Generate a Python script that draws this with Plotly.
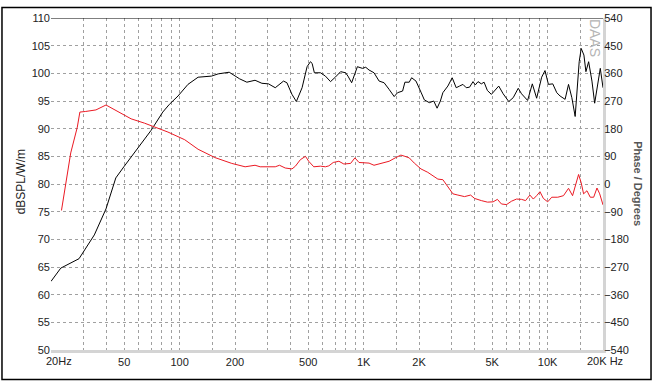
import plotly.graph_objects as go

# ---- data ----
spl_freq = [20, 22.6, 28.4, 34.4, 39.8, 45, 50, 59, 70, 81, 88, 98, 111, 126, 149, 162, 186,
            212, 232, 257, 280, 304, 331, 367, 383, 408, 431, 463, 493, 514, 525, 540, 583, 620,
            661, 704, 750, 798, 822, 861, 886, 925, 985, 1027, 1070, 1139, 1214, 1292, 1376,
            1466, 1529, 1629, 1677, 1770, 1824, 1926, 2050, 2138, 2276, 2406, 2508, 2614, 2696,
            2870, 3030, 3186, 3322, 3466, 3612, 3766, 3932, 4046, 4186, 4364, 4516, 4706, 4948,
            5158, 5424, 5734, 6152, 6502, 6924, 7218, 7786, 8258, 8718, 9284, 9678, 10102,
            10664, 11214, 11690, 12446, 12992, 13544, 14118, 14846, 15224, 15752, 16152, 16710,
            17418, 18018, 18548, 19332, 20000]
spl_db = [62.4, 64.8, 66.5, 70.8, 75.5, 81.1, 83.2, 86.4, 89.7, 93.0, 94.4, 95.9, 98.0, 99.3,
          99.5, 99.9, 100.2, 99.0, 98.4, 98.75, 98.2, 98.1, 97.4, 98.6, 98.3, 96.2, 94.9, 97.4,
          101.2, 102.1, 101.8, 100.1, 100.1, 99.5, 98.5, 99.35, 100.3, 100.1, 99.5, 98.3, 99.5,
          101.2, 100.9, 101.1, 100.6, 100.1, 98.6, 98.3, 97.1, 95.8, 96.5, 96.8, 98.4, 98.4,
          99.2, 98.6, 96.6, 95.2, 94.7, 95.0, 93.7, 95.0, 96.5, 97.7, 99.2, 97.4, 97.7, 98.0,
          97.4, 97.5, 98.5, 97.9, 98.5, 98.1, 98.4, 96.9, 96.2, 96.8, 97.7, 96.3, 94.9, 95.6,
          97.3, 96.3, 95.1, 98.1, 95.5, 99.3, 100.5, 98.0, 98.1, 96.5, 95.9, 95.3, 98.0, 95.6,
          92.2, 102.1, 104.5, 103.3, 100.3, 102.1, 98.6, 94.6, 97.4, 100.9, 97.4]

phase_freq = [22.8, 23.8, 25.6, 27.8, 28.7, 30.9, 35.1, 39.8, 45.1, 54.5, 64.4, 76.2, 86.4,
              106.6, 126, 155.5, 192, 227, 242, 257, 274, 304, 331, 349, 375, 408, 426, 453,
              483, 503, 536, 583, 620, 647, 684, 734, 781, 850, 897, 944, 1005, 1070, 1139,
              1214, 1292, 1376, 1497, 1594, 1677, 1770, 1886, 2050, 2232, 2376, 2532, 2696,
              2870, 3058, 3254, 3536, 3814, 4010, 4364, 4712, 5054, 5336, 5612, 5978, 6364,
              6778, 7218, 7590, 8012, 8362, 8718, 9088, 9484, 10012, 10528, 11354, 12198,
              12992, 13662, 14244, 14736, 15224, 15688, 16360, 17050, 17798, 18548, 19188,
              19748, 20000]
phase_deg = [-86, -18, 101, 185, 234, 236, 241, 257, 238, 212, 198, 182, 169, 144, 113, 86,
             67, 56, 59, 61, 56, 56, 56, 61, 52, 49, 58, 79, 90, 74, 56, 58, 56, 59, 70, 74,
             65, 67, 85, 70, 70, 68, 61, 65, 70, 74, 86, 94, 90, 85, 68, 49, 38, 27, 16, 14,
             -7, -32, -36, -41, -36, -47, -54, -59, -58, -50, -65, -67, -56, -49, -50, -54,
             -36, -49, -38, -25, -47, -58, -43, -43, -38, -14, -38, 4, 31, 4, -32, -22, -43,
             -43, -13, -32, -59, -68]

grid_freqs = [30, 40, 50, 60, 70, 80, 90, 100, 150, 200, 300, 400, 500, 600, 700, 800, 900,
              1000, 1500, 2000, 3000, 4000, 5000, 6000, 7000, 8000, 9000, 10000, 15000]
x_labels = {50: "50", 100: "100", 200: "200", 500: "500", 1000: "1K", 2000: "2K",
            5000: "5K", 10000: "10K"}
left_ticks = list(range(50, 111, 5))
right_ticks = list(range(-540, 541, 90))

FONT = "Liberation Sans, Arial, Helvetica, sans-serif"

fig = go.Figure()
fig.add_trace(go.Scatter(x=spl_freq, y=spl_db, mode="lines",
                         line=dict(color="black", width=1), showlegend=False))
fig.add_trace(go.Scatter(x=phase_freq, y=phase_deg, mode="lines", yaxis="y2",
                         line=dict(color="rgb(235,25,35)", width=1), showlegend=False))

fig.update_layout(
    width=653, height=384,
    margin=dict(l=51, r=50, t=12, b=34),
    paper_bgcolor="white", plot_bgcolor="white",
    font=dict(family=FONT, size=11, color="#222"),
    xaxis=dict(type="log", range=[1.30103, 4.30103],
               tickvals=grid_freqs,
               ticktext=[x_labels.get(f, "") for f in grid_freqs],
               showgrid=True, gridcolor="#a0a0a0", griddash="dot", gridwidth=1,
               showline=True, linecolor="#d4d4d4", linewidth=3,
               ticks="", zeroline=False, tickfont=dict(size=11, color="#222")),
    yaxis=dict(range=[50, 110], tickvals=left_ticks,
               showgrid=True, gridcolor="#a0a0a0", griddash="dot", gridwidth=1,
               showline=False, ticks="", zeroline=False,
               tickfont=dict(size=11, color="#222")),
    yaxis2=dict(range=[-540, 540], tickvals=right_ticks, overlaying="y", side="right",
                showgrid=False, showline=True, linecolor="#d4d4d4", linewidth=3,
                ticks="", zeroline=False, ticklabelstandoff=-4,
                tickfont=dict(size=11, color="#222")),
)

# solid top line at 110
fig.add_shape(type="line", xref="paper", yref="y", x0=0, x1=1, y0=110, y1=110,
              line=dict(color="black", width=1))
# outer frame
fig.add_shape(type="rect", xref="paper", yref="paper",
              x0=-0.0888, x1=1.087, y0=-0.0888, y1=1.032,
              line=dict(color="black", width=1.5))

fig.add_annotation(x=1.30103, y=0, xref="x", yref="paper", text="20Hz",
                   showarrow=False, xanchor="left", yanchor="top", xshift=-7, yshift=-3,
                   font=dict(size=11, color="#222"))
fig.add_annotation(x=4.30103, y=0, xref="x", yref="paper", text="20K Hz",
                   showarrow=False, xanchor="left", yanchor="top", xshift=-18, yshift=-3,
                   font=dict(size=11, color="#222"))
fig.add_annotation(x=-0.0543, y=0.505, xref="paper", yref="paper", text="dBSPL/W/m",
                   showarrow=False, textangle=-90, xanchor="center", yanchor="middle",
                   font=dict(size=12, color="#222"))
fig.add_annotation(x=1.063, y=0.5, xref="paper", yref="paper", text="<b>Phase / Degrees</b>",
                   showarrow=False, textangle=90, xanchor="center", yanchor="middle",
                   font=dict(size=11, color="#555"))
fig.add_annotation(x=0.9855, y=0.94, xref="paper", yref="paper", text="DAAS",
                   showarrow=False, textangle=90, xanchor="center", yanchor="middle",
                   font=dict(size=14, color="#b4b4b4"))

fig.write_html("out.html")
